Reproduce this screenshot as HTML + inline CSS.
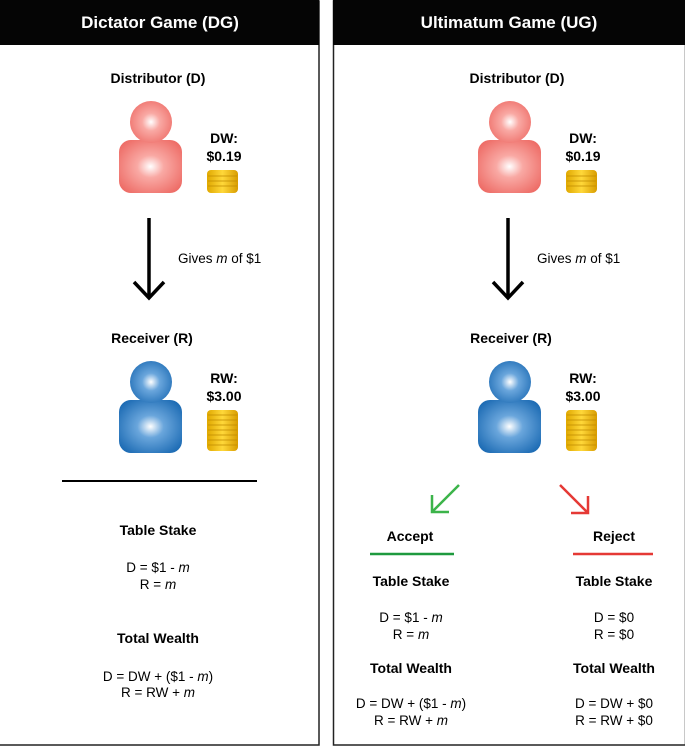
<!DOCTYPE html>
<html><head><meta charset="utf-8"><style>
html,body{margin:0;padding:0;background:#fff;}
svg{display:block;font-family:"Liberation Sans",Arial,sans-serif;}
</style></head><body>
<svg width="685" height="747" viewBox="0 0 685 747" xmlns="http://www.w3.org/2000/svg">
<defs>
<radialGradient id="pk" cx="0.5" cy="0.5" r="0.6"><stop offset="0" stop-color="#fff"/><stop offset="0.35" stop-color="#f9a9a4"/><stop offset="1" stop-color="#ee6e68"/></radialGradient>
<radialGradient id="bl" cx="0.5" cy="0.5" r="0.6"><stop offset="0" stop-color="#fff"/><stop offset="0.35" stop-color="#6aa6dc"/><stop offset="1" stop-color="#1f6db5"/></radialGradient>
<linearGradient id="gd" x1="0" y1="0" x2="1" y2="0"><stop offset="0" stop-color="#e0a800"/><stop offset="0.5" stop-color="#ffd83a"/><stop offset="1" stop-color="#d89c00"/></linearGradient>
<g id="coinS"><rect x="0" y="0" width="31" height="23" rx="4" fill="url(#gd)"/><path d="M1 6H30M1 11H30M1 16H30" stroke="#c08a00" stroke-width="0.8"/></g>
<g id="coinT"><rect x="0" y="0" width="31" height="41" rx="4" fill="url(#gd)"/><path d="M1 5H30M1 10H30M1 15H30M1 20H30M1 25H30M1 30H30M1 35H30" stroke="#c08a00" stroke-width="0.8"/></g>
<g id="pinkP"><rect x="119" y="140" width="63" height="53" rx="12" fill="url(#pk)"/><circle cx="151" cy="122" r="21" fill="url(#pk)"/></g>
<g id="blueP"><rect x="119" y="400" width="63" height="53" rx="12" fill="url(#bl)"/><circle cx="151" cy="382" r="21" fill="url(#bl)"/></g>
</defs>
<rect x="-2" y="1" width="321" height="744" fill="#fff" stroke="#222" stroke-width="1.5"/>
<rect x="0" y="0" width="319" height="45" fill="#050505"/>
<rect x="333.5" y="1" width="352" height="744" fill="#fff" stroke="#222" stroke-width="1.5"/>
<rect x="333" y="0" width="352" height="45" fill="#050505"/>
<text x="160" y="28" fill="#fff" font-size="17" font-weight="bold" text-anchor="middle">Dictator Game (DG)</text>
<text x="509" y="28" fill="#fff" font-size="17" font-weight="bold" text-anchor="middle">Ultimatum Game (UG)</text>

<g id="top">
<text x="158" y="83" font-size="14" font-weight="bold" text-anchor="middle">Distributor (D)</text>
<use href="#pinkP"/>
<text x="224" y="143" font-size="14" font-weight="bold" text-anchor="middle">DW:</text>
<text x="224" y="161" font-size="14" font-weight="bold" text-anchor="middle">$0.19</text>
<use href="#coinS" x="207" y="170"/>
<line x1="149" y1="218" x2="149" y2="297" stroke="#000" stroke-width="3.5"/>
<path d="M134 282L149 298L164 282" fill="none" stroke="#000" stroke-width="3.5"/>
<text x="178" y="263" font-size="13.5">Gives <tspan font-style="italic">m</tspan> of $1</text>
<text x="152" y="343" font-size="14" font-weight="bold" text-anchor="middle">Receiver (R)</text>
<use href="#blueP"/>
<text x="224" y="383" font-size="14" font-weight="bold" text-anchor="middle">RW:</text>
<text x="224" y="401" font-size="14" font-weight="bold" text-anchor="middle">$3.00</text>
<use href="#coinT" x="207" y="410"/>
</g>
<use href="#top" x="359"/>

<line x1="62" y1="481" x2="257" y2="481" stroke="#000" stroke-width="2"/>
<g font-size="13.5" text-anchor="middle">
<text x="158" y="535" font-weight="bold" font-size="14">Table Stake</text>
<text x="158" y="572">D = $1 - <tspan font-style="italic">m</tspan></text>
<text x="158" y="589">R = <tspan font-style="italic">m</tspan></text>
<text x="158" y="643" font-weight="bold" font-size="14">Total Wealth</text>
<text x="158" y="681">D = DW + ($1 - <tspan font-style="italic">m</tspan>)</text>
<text x="158" y="697">R = RW + <tspan font-style="italic">m</tspan></text>
</g>

<path d="M459 485L432 512M432 495L432 512L449 512" fill="none" stroke="#3cb44a" stroke-width="2.5"/>
<path d="M560 485L588 513M588 496L588 513L571 513" fill="none" stroke="#e53935" stroke-width="2.5"/>
<line x1="370" y1="554" x2="454" y2="554" stroke="#1e9a3e" stroke-width="2.5"/>
<line x1="573" y1="554" x2="653" y2="554" stroke="#e53935" stroke-width="2.5"/>
<g font-size="13.5" text-anchor="middle">
<text x="410" y="541" font-weight="bold" font-size="14">Accept</text>
<text x="614" y="541" font-weight="bold" font-size="14">Reject</text>
<text x="411" y="586" font-weight="bold" font-size="14">Table Stake</text>
<text x="411" y="622">D = $1 - <tspan font-style="italic">m</tspan></text>
<text x="411" y="639">R = <tspan font-style="italic">m</tspan></text>
<text x="411" y="673" font-weight="bold" font-size="14">Total Wealth</text>
<text x="411" y="708">D = DW + ($1 - <tspan font-style="italic">m</tspan>)</text>
<text x="411" y="725">R = RW + <tspan font-style="italic">m</tspan></text>
<text x="614" y="586" font-weight="bold" font-size="14">Table Stake</text>
<text x="614" y="622">D = $0</text>
<text x="614" y="639">R = $0</text>
<text x="614" y="673" font-weight="bold" font-size="14">Total Wealth</text>
<text x="614" y="708">D = DW + $0</text>
<text x="614" y="725">R = RW + $0</text>
</g>
</svg>
</body></html>
